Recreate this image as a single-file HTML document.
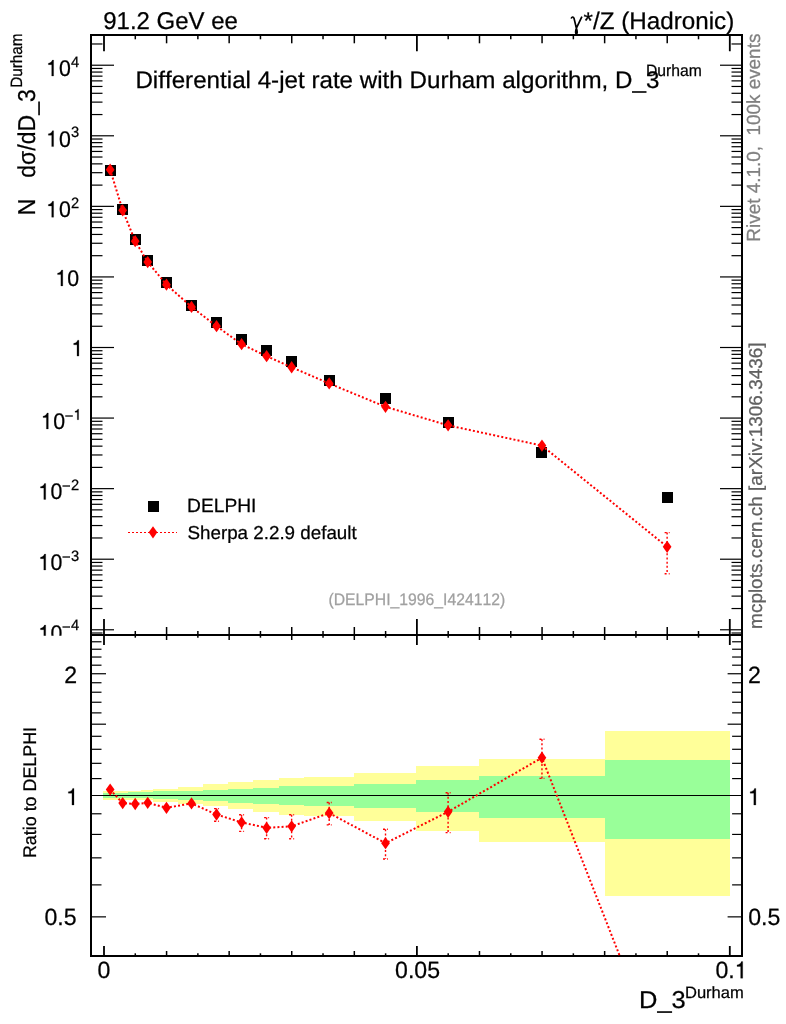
<!DOCTYPE html>
<html><head><meta charset="utf-8"><title>plot</title>
<style>html,body{margin:0;padding:0;background:#fff;width:786px;height:1024px;overflow:hidden}svg{position:absolute;left:0;top:0;will-change:transform}svg text{font-family:"Liberation Sans",sans-serif;stroke-width:0.25px;font-variant-ligatures:none;font-kerning:none;white-space:pre;text-rendering:geometricPrecision}</style></head>
<body>
<svg width="786" height="1024" viewBox="0 0 786 1024">
<rect x="0" y="0" width="786" height="1024" fill="#fff"/>
<g fill="#ffff99" shape-rendering="crispEdges">
<rect x="103" y="791.2" width="13" height="8.3"/>
<rect x="116" y="790.9" width="12" height="8.9"/>
<rect x="128" y="790.5" width="13" height="9.5"/>
<rect x="141" y="790.0" width="12" height="10.3"/>
<rect x="153" y="788.9" width="25" height="12.6"/>
<rect x="178" y="787.1" width="25" height="16.5"/>
<rect x="203" y="784.3" width="25" height="22.0"/>
<rect x="228" y="782.0" width="25" height="27.0"/>
<rect x="253" y="780.1" width="26" height="31.6"/>
<rect x="279" y="777.9" width="25" height="36.8"/>
<rect x="304" y="777.0" width="50" height="38.6"/>
<rect x="354" y="773.1" width="62" height="47.7"/>
<rect x="416" y="766.2" width="63" height="64.7"/>
<rect x="479" y="758.5" width="126" height="83.3"/>
<rect x="605" y="731.2" width="125" height="165.1"/>
</g>
<g fill="#99ff99" shape-rendering="crispEdges">
<rect x="103" y="792.8" width="13" height="5.1"/>
<rect x="116" y="792.6" width="12" height="5.4"/>
<rect x="128" y="792.3" width="13" height="5.9"/>
<rect x="141" y="792.0" width="12" height="6.4"/>
<rect x="153" y="791.4" width="25" height="7.3"/>
<rect x="178" y="790.5" width="25" height="9.3"/>
<rect x="203" y="789.6" width="25" height="11.5"/>
<rect x="228" y="788.7" width="25" height="13.8"/>
<rect x="253" y="787.7" width="26" height="16.3"/>
<rect x="279" y="786.2" width="25" height="18.8"/>
<rect x="304" y="786.0" width="50" height="19.5"/>
<rect x="354" y="783.7" width="62" height="24.1"/>
<rect x="416" y="779.8" width="63" height="31.8"/>
<rect x="479" y="775.7" width="126" height="41.8"/>
<rect x="605" y="760.1" width="125" height="78.5"/>
</g>
<line x1="91.0" y1="795.5" x2="742.0" y2="795.5" stroke="#000" stroke-width="1" shape-rendering="crispEdges"/>
<g stroke="#000" stroke-width="2" fill="none" shape-rendering="crispEdges">
<rect x="91.0" y="35.0" width="651.0" height="600.0"/>
<rect x="91.0" y="635.0" width="651.0" height="321.0"/>
</g>
<g stroke="#000" stroke-width="1.5">
<path d="M104.00,35.0v16.3M104.00,619.0v26M104.00,946.0v10" stroke-width="1.8"/>
<path d="M416.90,35.0v16.3M416.90,619.0v26M416.90,946.0v10" stroke-width="1.8"/>
<path d="M729.80,35.0v16.3M729.80,619.0v26M729.80,946.0v10" stroke-width="1.8"/>
<line x1="135.29" y1="35.0" x2="135.29" y2="39.3"/>
<line x1="135.29" y1="631.0" x2="135.29" y2="637.7"/>
<line x1="135.29" y1="953.3" x2="135.29" y2="956.0"/>
<line x1="166.58" y1="35.0" x2="166.58" y2="43.3"/>
<line x1="166.58" y1="627.0" x2="166.58" y2="640.0"/>
<line x1="166.58" y1="951.0" x2="166.58" y2="956.0"/>
<line x1="197.87" y1="35.0" x2="197.87" y2="39.3"/>
<line x1="197.87" y1="631.0" x2="197.87" y2="637.7"/>
<line x1="197.87" y1="953.3" x2="197.87" y2="956.0"/>
<line x1="229.16" y1="35.0" x2="229.16" y2="43.3"/>
<line x1="229.16" y1="627.0" x2="229.16" y2="640.0"/>
<line x1="229.16" y1="951.0" x2="229.16" y2="956.0"/>
<line x1="260.45" y1="35.0" x2="260.45" y2="39.3"/>
<line x1="260.45" y1="631.0" x2="260.45" y2="637.7"/>
<line x1="260.45" y1="953.3" x2="260.45" y2="956.0"/>
<line x1="291.74" y1="35.0" x2="291.74" y2="43.3"/>
<line x1="291.74" y1="627.0" x2="291.74" y2="640.0"/>
<line x1="291.74" y1="951.0" x2="291.74" y2="956.0"/>
<line x1="323.03" y1="35.0" x2="323.03" y2="39.3"/>
<line x1="323.03" y1="631.0" x2="323.03" y2="637.7"/>
<line x1="323.03" y1="953.3" x2="323.03" y2="956.0"/>
<line x1="354.32" y1="35.0" x2="354.32" y2="43.3"/>
<line x1="354.32" y1="627.0" x2="354.32" y2="640.0"/>
<line x1="354.32" y1="951.0" x2="354.32" y2="956.0"/>
<line x1="385.61" y1="35.0" x2="385.61" y2="39.3"/>
<line x1="385.61" y1="631.0" x2="385.61" y2="637.7"/>
<line x1="385.61" y1="953.3" x2="385.61" y2="956.0"/>
<line x1="448.19" y1="35.0" x2="448.19" y2="39.3"/>
<line x1="448.19" y1="631.0" x2="448.19" y2="637.7"/>
<line x1="448.19" y1="953.3" x2="448.19" y2="956.0"/>
<line x1="479.48" y1="35.0" x2="479.48" y2="43.3"/>
<line x1="479.48" y1="627.0" x2="479.48" y2="640.0"/>
<line x1="479.48" y1="951.0" x2="479.48" y2="956.0"/>
<line x1="510.77" y1="35.0" x2="510.77" y2="39.3"/>
<line x1="510.77" y1="631.0" x2="510.77" y2="637.7"/>
<line x1="510.77" y1="953.3" x2="510.77" y2="956.0"/>
<line x1="542.06" y1="35.0" x2="542.06" y2="43.3"/>
<line x1="542.06" y1="627.0" x2="542.06" y2="640.0"/>
<line x1="542.06" y1="951.0" x2="542.06" y2="956.0"/>
<line x1="573.35" y1="35.0" x2="573.35" y2="39.3"/>
<line x1="573.35" y1="631.0" x2="573.35" y2="637.7"/>
<line x1="573.35" y1="953.3" x2="573.35" y2="956.0"/>
<line x1="604.64" y1="35.0" x2="604.64" y2="43.3"/>
<line x1="604.64" y1="627.0" x2="604.64" y2="640.0"/>
<line x1="604.64" y1="951.0" x2="604.64" y2="956.0"/>
<line x1="635.93" y1="35.0" x2="635.93" y2="39.3"/>
<line x1="635.93" y1="631.0" x2="635.93" y2="637.7"/>
<line x1="635.93" y1="953.3" x2="635.93" y2="956.0"/>
<line x1="667.22" y1="35.0" x2="667.22" y2="43.3"/>
<line x1="667.22" y1="627.0" x2="667.22" y2="640.0"/>
<line x1="667.22" y1="951.0" x2="667.22" y2="956.0"/>
<line x1="698.51" y1="35.0" x2="698.51" y2="39.3"/>
<line x1="698.51" y1="631.0" x2="698.51" y2="637.7"/>
<line x1="698.51" y1="953.3" x2="698.51" y2="956.0"/>
</g>
<g stroke="#000" stroke-width="1.2">
<line x1="91.0" y1="633.01" x2="102.5" y2="633.01"/>
<line x1="742.0" y1="633.01" x2="731.5" y2="633.01"/>
<line x1="91.0" y1="629.78" x2="114.0" y2="629.78"/>
<line x1="742.0" y1="629.78" x2="720.0" y2="629.78"/>
<line x1="91.0" y1="608.54" x2="102.5" y2="608.54"/>
<line x1="742.0" y1="608.54" x2="731.5" y2="608.54"/>
<line x1="91.0" y1="596.11" x2="102.5" y2="596.11"/>
<line x1="742.0" y1="596.11" x2="731.5" y2="596.11"/>
<line x1="91.0" y1="587.29" x2="102.5" y2="587.29"/>
<line x1="742.0" y1="587.29" x2="731.5" y2="587.29"/>
<line x1="91.0" y1="580.45" x2="102.5" y2="580.45"/>
<line x1="742.0" y1="580.45" x2="731.5" y2="580.45"/>
<line x1="91.0" y1="574.87" x2="102.5" y2="574.87"/>
<line x1="742.0" y1="574.87" x2="731.5" y2="574.87"/>
<line x1="91.0" y1="570.14" x2="102.5" y2="570.14"/>
<line x1="742.0" y1="570.14" x2="731.5" y2="570.14"/>
<line x1="91.0" y1="566.05" x2="102.5" y2="566.05"/>
<line x1="742.0" y1="566.05" x2="731.5" y2="566.05"/>
<line x1="91.0" y1="562.44" x2="102.5" y2="562.44"/>
<line x1="742.0" y1="562.44" x2="731.5" y2="562.44"/>
<line x1="91.0" y1="559.21" x2="114.0" y2="559.21"/>
<line x1="742.0" y1="559.21" x2="720.0" y2="559.21"/>
<line x1="91.0" y1="537.97" x2="102.5" y2="537.97"/>
<line x1="742.0" y1="537.97" x2="731.5" y2="537.97"/>
<line x1="91.0" y1="525.54" x2="102.5" y2="525.54"/>
<line x1="742.0" y1="525.54" x2="731.5" y2="525.54"/>
<line x1="91.0" y1="516.72" x2="102.5" y2="516.72"/>
<line x1="742.0" y1="516.72" x2="731.5" y2="516.72"/>
<line x1="91.0" y1="509.88" x2="102.5" y2="509.88"/>
<line x1="742.0" y1="509.88" x2="731.5" y2="509.88"/>
<line x1="91.0" y1="504.30" x2="102.5" y2="504.30"/>
<line x1="742.0" y1="504.30" x2="731.5" y2="504.30"/>
<line x1="91.0" y1="499.57" x2="102.5" y2="499.57"/>
<line x1="742.0" y1="499.57" x2="731.5" y2="499.57"/>
<line x1="91.0" y1="495.48" x2="102.5" y2="495.48"/>
<line x1="742.0" y1="495.48" x2="731.5" y2="495.48"/>
<line x1="91.0" y1="491.87" x2="102.5" y2="491.87"/>
<line x1="742.0" y1="491.87" x2="731.5" y2="491.87"/>
<line x1="91.0" y1="488.64" x2="114.0" y2="488.64"/>
<line x1="742.0" y1="488.64" x2="720.0" y2="488.64"/>
<line x1="91.0" y1="467.40" x2="102.5" y2="467.40"/>
<line x1="742.0" y1="467.40" x2="731.5" y2="467.40"/>
<line x1="91.0" y1="454.97" x2="102.5" y2="454.97"/>
<line x1="742.0" y1="454.97" x2="731.5" y2="454.97"/>
<line x1="91.0" y1="446.15" x2="102.5" y2="446.15"/>
<line x1="742.0" y1="446.15" x2="731.5" y2="446.15"/>
<line x1="91.0" y1="439.31" x2="102.5" y2="439.31"/>
<line x1="742.0" y1="439.31" x2="731.5" y2="439.31"/>
<line x1="91.0" y1="433.73" x2="102.5" y2="433.73"/>
<line x1="742.0" y1="433.73" x2="731.5" y2="433.73"/>
<line x1="91.0" y1="429.00" x2="102.5" y2="429.00"/>
<line x1="742.0" y1="429.00" x2="731.5" y2="429.00"/>
<line x1="91.0" y1="424.91" x2="102.5" y2="424.91"/>
<line x1="742.0" y1="424.91" x2="731.5" y2="424.91"/>
<line x1="91.0" y1="421.30" x2="102.5" y2="421.30"/>
<line x1="742.0" y1="421.30" x2="731.5" y2="421.30"/>
<line x1="91.0" y1="418.07" x2="114.0" y2="418.07"/>
<line x1="742.0" y1="418.07" x2="720.0" y2="418.07"/>
<line x1="91.0" y1="396.83" x2="102.5" y2="396.83"/>
<line x1="742.0" y1="396.83" x2="731.5" y2="396.83"/>
<line x1="91.0" y1="384.40" x2="102.5" y2="384.40"/>
<line x1="742.0" y1="384.40" x2="731.5" y2="384.40"/>
<line x1="91.0" y1="375.58" x2="102.5" y2="375.58"/>
<line x1="742.0" y1="375.58" x2="731.5" y2="375.58"/>
<line x1="91.0" y1="368.74" x2="102.5" y2="368.74"/>
<line x1="742.0" y1="368.74" x2="731.5" y2="368.74"/>
<line x1="91.0" y1="363.16" x2="102.5" y2="363.16"/>
<line x1="742.0" y1="363.16" x2="731.5" y2="363.16"/>
<line x1="91.0" y1="358.43" x2="102.5" y2="358.43"/>
<line x1="742.0" y1="358.43" x2="731.5" y2="358.43"/>
<line x1="91.0" y1="354.34" x2="102.5" y2="354.34"/>
<line x1="742.0" y1="354.34" x2="731.5" y2="354.34"/>
<line x1="91.0" y1="350.73" x2="102.5" y2="350.73"/>
<line x1="742.0" y1="350.73" x2="731.5" y2="350.73"/>
<line x1="91.0" y1="347.50" x2="114.0" y2="347.50"/>
<line x1="742.0" y1="347.50" x2="720.0" y2="347.50"/>
<line x1="91.0" y1="326.26" x2="102.5" y2="326.26"/>
<line x1="742.0" y1="326.26" x2="731.5" y2="326.26"/>
<line x1="91.0" y1="313.83" x2="102.5" y2="313.83"/>
<line x1="742.0" y1="313.83" x2="731.5" y2="313.83"/>
<line x1="91.0" y1="305.01" x2="102.5" y2="305.01"/>
<line x1="742.0" y1="305.01" x2="731.5" y2="305.01"/>
<line x1="91.0" y1="298.17" x2="102.5" y2="298.17"/>
<line x1="742.0" y1="298.17" x2="731.5" y2="298.17"/>
<line x1="91.0" y1="292.59" x2="102.5" y2="292.59"/>
<line x1="742.0" y1="292.59" x2="731.5" y2="292.59"/>
<line x1="91.0" y1="287.86" x2="102.5" y2="287.86"/>
<line x1="742.0" y1="287.86" x2="731.5" y2="287.86"/>
<line x1="91.0" y1="283.77" x2="102.5" y2="283.77"/>
<line x1="742.0" y1="283.77" x2="731.5" y2="283.77"/>
<line x1="91.0" y1="280.16" x2="102.5" y2="280.16"/>
<line x1="742.0" y1="280.16" x2="731.5" y2="280.16"/>
<line x1="91.0" y1="276.93" x2="114.0" y2="276.93"/>
<line x1="742.0" y1="276.93" x2="720.0" y2="276.93"/>
<line x1="91.0" y1="255.69" x2="102.5" y2="255.69"/>
<line x1="742.0" y1="255.69" x2="731.5" y2="255.69"/>
<line x1="91.0" y1="243.26" x2="102.5" y2="243.26"/>
<line x1="742.0" y1="243.26" x2="731.5" y2="243.26"/>
<line x1="91.0" y1="234.44" x2="102.5" y2="234.44"/>
<line x1="742.0" y1="234.44" x2="731.5" y2="234.44"/>
<line x1="91.0" y1="227.60" x2="102.5" y2="227.60"/>
<line x1="742.0" y1="227.60" x2="731.5" y2="227.60"/>
<line x1="91.0" y1="222.02" x2="102.5" y2="222.02"/>
<line x1="742.0" y1="222.02" x2="731.5" y2="222.02"/>
<line x1="91.0" y1="217.29" x2="102.5" y2="217.29"/>
<line x1="742.0" y1="217.29" x2="731.5" y2="217.29"/>
<line x1="91.0" y1="213.20" x2="102.5" y2="213.20"/>
<line x1="742.0" y1="213.20" x2="731.5" y2="213.20"/>
<line x1="91.0" y1="209.59" x2="102.5" y2="209.59"/>
<line x1="742.0" y1="209.59" x2="731.5" y2="209.59"/>
<line x1="91.0" y1="206.36" x2="114.0" y2="206.36"/>
<line x1="742.0" y1="206.36" x2="720.0" y2="206.36"/>
<line x1="91.0" y1="185.12" x2="102.5" y2="185.12"/>
<line x1="742.0" y1="185.12" x2="731.5" y2="185.12"/>
<line x1="91.0" y1="172.69" x2="102.5" y2="172.69"/>
<line x1="742.0" y1="172.69" x2="731.5" y2="172.69"/>
<line x1="91.0" y1="163.87" x2="102.5" y2="163.87"/>
<line x1="742.0" y1="163.87" x2="731.5" y2="163.87"/>
<line x1="91.0" y1="157.03" x2="102.5" y2="157.03"/>
<line x1="742.0" y1="157.03" x2="731.5" y2="157.03"/>
<line x1="91.0" y1="151.45" x2="102.5" y2="151.45"/>
<line x1="742.0" y1="151.45" x2="731.5" y2="151.45"/>
<line x1="91.0" y1="146.72" x2="102.5" y2="146.72"/>
<line x1="742.0" y1="146.72" x2="731.5" y2="146.72"/>
<line x1="91.0" y1="142.63" x2="102.5" y2="142.63"/>
<line x1="742.0" y1="142.63" x2="731.5" y2="142.63"/>
<line x1="91.0" y1="139.02" x2="102.5" y2="139.02"/>
<line x1="742.0" y1="139.02" x2="731.5" y2="139.02"/>
<line x1="91.0" y1="135.79" x2="114.0" y2="135.79"/>
<line x1="742.0" y1="135.79" x2="720.0" y2="135.79"/>
<line x1="91.0" y1="114.55" x2="102.5" y2="114.55"/>
<line x1="742.0" y1="114.55" x2="731.5" y2="114.55"/>
<line x1="91.0" y1="102.12" x2="102.5" y2="102.12"/>
<line x1="742.0" y1="102.12" x2="731.5" y2="102.12"/>
<line x1="91.0" y1="93.30" x2="102.5" y2="93.30"/>
<line x1="742.0" y1="93.30" x2="731.5" y2="93.30"/>
<line x1="91.0" y1="86.46" x2="102.5" y2="86.46"/>
<line x1="742.0" y1="86.46" x2="731.5" y2="86.46"/>
<line x1="91.0" y1="80.88" x2="102.5" y2="80.88"/>
<line x1="742.0" y1="80.88" x2="731.5" y2="80.88"/>
<line x1="91.0" y1="76.15" x2="102.5" y2="76.15"/>
<line x1="742.0" y1="76.15" x2="731.5" y2="76.15"/>
<line x1="91.0" y1="72.06" x2="102.5" y2="72.06"/>
<line x1="742.0" y1="72.06" x2="731.5" y2="72.06"/>
<line x1="91.0" y1="68.45" x2="102.5" y2="68.45"/>
<line x1="742.0" y1="68.45" x2="731.5" y2="68.45"/>
<line x1="91.0" y1="65.22" x2="114.0" y2="65.22"/>
<line x1="742.0" y1="65.22" x2="720.0" y2="65.22"/>
<line x1="91.0" y1="43.98" x2="102.5" y2="43.98"/>
<line x1="742.0" y1="43.98" x2="731.5" y2="43.98"/>
<line x1="91.0" y1="916.86" x2="106.0" y2="916.86"/>
<line x1="742.0" y1="916.86" x2="727.6" y2="916.86"/>
<line x1="91.0" y1="884.88" x2="101.5" y2="884.88"/>
<line x1="742.0" y1="884.88" x2="732.1" y2="884.88"/>
<line x1="91.0" y1="857.85" x2="101.5" y2="857.85"/>
<line x1="742.0" y1="857.85" x2="732.1" y2="857.85"/>
<line x1="91.0" y1="834.43" x2="101.5" y2="834.43"/>
<line x1="742.0" y1="834.43" x2="732.1" y2="834.43"/>
<line x1="91.0" y1="813.78" x2="101.5" y2="813.78"/>
<line x1="742.0" y1="813.78" x2="732.1" y2="813.78"/>
<line x1="91.0" y1="778.59" x2="101.5" y2="778.59"/>
<line x1="742.0" y1="778.59" x2="732.1" y2="778.59"/>
<line x1="91.0" y1="763.33" x2="101.5" y2="763.33"/>
<line x1="742.0" y1="763.33" x2="732.1" y2="763.33"/>
<line x1="91.0" y1="749.29" x2="101.5" y2="749.29"/>
<line x1="742.0" y1="749.29" x2="732.1" y2="749.29"/>
<line x1="91.0" y1="736.29" x2="101.5" y2="736.29"/>
<line x1="742.0" y1="736.29" x2="732.1" y2="736.29"/>
<line x1="91.0" y1="724.19" x2="106.0" y2="724.19"/>
<line x1="742.0" y1="724.19" x2="727.6" y2="724.19"/>
<line x1="91.0" y1="712.88" x2="101.5" y2="712.88"/>
<line x1="742.0" y1="712.88" x2="732.1" y2="712.88"/>
<line x1="91.0" y1="702.24" x2="101.5" y2="702.24"/>
<line x1="742.0" y1="702.24" x2="732.1" y2="702.24"/>
<line x1="91.0" y1="692.22" x2="101.5" y2="692.22"/>
<line x1="742.0" y1="692.22" x2="732.1" y2="692.22"/>
<line x1="91.0" y1="682.74" x2="101.5" y2="682.74"/>
<line x1="742.0" y1="682.74" x2="732.1" y2="682.74"/>
<line x1="91.0" y1="673.74" x2="106.0" y2="673.74"/>
<line x1="742.0" y1="673.74" x2="727.6" y2="673.74"/>
<line x1="91.0" y1="665.19" x2="101.5" y2="665.19"/>
<line x1="742.0" y1="665.19" x2="732.1" y2="665.19"/>
<line x1="91.0" y1="657.03" x2="101.5" y2="657.03"/>
<line x1="742.0" y1="657.03" x2="732.1" y2="657.03"/>
<line x1="91.0" y1="649.23" x2="101.5" y2="649.23"/>
<line x1="742.0" y1="649.23" x2="732.1" y2="649.23"/>
<line x1="91.0" y1="641.77" x2="101.5" y2="641.77"/>
<line x1="742.0" y1="641.77" x2="732.1" y2="641.77"/>
</g>
<g fill="#000" shape-rendering="crispEdges">
<rect x="105.0" y="165.0" width="11" height="11"/>
<rect x="117.0" y="204.0" width="11" height="11"/>
<rect x="130.0" y="234.0" width="11" height="11"/>
<rect x="142.0" y="255.0" width="11" height="11"/>
<rect x="161.0" y="277.0" width="11" height="11"/>
<rect x="186.0" y="300.0" width="11" height="11"/>
<rect x="211.0" y="317.0" width="11" height="11"/>
<rect x="236.0" y="334.0" width="11" height="11"/>
<rect x="261.0" y="345.0" width="11" height="11"/>
<rect x="286.0" y="356.0" width="11" height="11"/>
<rect x="324.0" y="375.0" width="11" height="11"/>
<rect x="380.0" y="393.0" width="11" height="11"/>
<rect x="443.0" y="417.0" width="11" height="11"/>
<rect x="536.0" y="447.0" width="11" height="11"/>
<rect x="662.0" y="492.0" width="11" height="11"/>
<rect x="148.0" y="501.0" width="11" height="11"/>
</g>
<g stroke="#ff0000" stroke-width="1.4" fill="none" stroke-dasharray="2 2.15">
<path d="M667.12,532.6V573.8M664.62,532.6h5M664.62,573.8h5"/>
</g>
<polyline points="110.16,169.67 122.67,210.32 135.19,241.18 147.71,262.07 166.48,284.64 191.51,306.88 216.54,326.21 241.58,344.19 266.61,356.13 291.64,367.27 329.19,383.47 385.51,406.81 448.09,425.34 541.96,445.61 667.12,546.80" fill="none" stroke="#ff0000" stroke-width="2" stroke-dasharray="2 2.15"/>
<g fill="#ff0000">
<polygon points="105.81,169.67 110.16,163.52 114.51,169.67 110.16,175.82"/>
<polygon points="118.32,210.32 122.67,204.17 127.02,210.32 122.67,216.47"/>
<polygon points="130.84,241.18 135.19,235.03 139.54,241.18 135.19,247.33"/>
<polygon points="143.36,262.07 147.71,255.92 152.06,262.07 147.71,268.22"/>
<polygon points="162.13,284.64 166.48,278.49 170.83,284.64 166.48,290.79"/>
<polygon points="187.16,306.88 191.51,300.73 195.86,306.88 191.51,313.03"/>
<polygon points="212.19,326.21 216.54,320.06 220.89,326.21 216.54,332.36"/>
<polygon points="237.23,344.19 241.58,338.04 245.93,344.19 241.58,350.34"/>
<polygon points="262.26,356.13 266.61,349.98 270.96,356.13 266.61,362.28"/>
<polygon points="287.29,367.27 291.64,361.12 295.99,367.27 291.64,373.42"/>
<polygon points="324.84,383.47 329.19,377.32 333.54,383.47 329.19,389.62"/>
<polygon points="381.16,406.81 385.51,400.66 389.86,406.81 385.51,412.96"/>
<polygon points="443.74,425.34 448.09,419.19 452.44,425.34 448.09,431.49"/>
<polygon points="537.61,445.61 541.96,439.46 546.31,445.61 541.96,451.76"/>
<polygon points="662.77,546.80 667.12,540.65 671.47,546.80 667.12,552.95"/>
</g>
<clipPath id="c2"><rect x="91.0" y="635.0" width="651.0" height="321.0"/></clipPath>
<g clip-path="url(#c2)">
<g stroke="#ff0000" stroke-width="1.4" fill="none" stroke-dasharray="2 2.15">
<path d="M216.54,808.6V821.3M214.04,808.6h5M214.04,821.3h5"/>
<path d="M241.58,814.7V831.4M239.08,814.7h5M239.08,831.4h5"/>
<path d="M266.61,817.6V838.8M264.11,817.6h5M264.11,838.8h5"/>
<path d="M291.64,814.7V838.8M289.14,814.7h5M289.14,838.8h5"/>
<path d="M329.19,802.5V824.9M326.69,802.5h5M326.69,824.9h5"/>
<path d="M385.51,829.3V859.0M383.01,829.3h5M383.01,859.0h5"/>
<path d="M448.09,792.7V832.6M445.59,792.7h5M445.59,832.6h5"/>
<path d="M541.96,739.2V778.4M539.46,739.2h5M539.46,778.4h5"/>
</g>
<polyline points="110.16,789.60 122.67,803.10 135.19,804.00 147.71,802.80 166.48,807.80 191.51,803.40 216.54,814.50 241.58,822.40 266.61,827.80 291.64,826.30 329.19,813.10 385.51,843.20 448.09,811.80 541.96,757.70 667.12,1076.70" fill="none" stroke="#ff0000" stroke-width="2" stroke-dasharray="2 2.15"/>
<g fill="#ff0000">
<polygon points="105.81,789.60 110.16,783.45 114.51,789.60 110.16,795.75"/>
<polygon points="118.32,803.10 122.67,796.95 127.02,803.10 122.67,809.25"/>
<polygon points="130.84,804.00 135.19,797.85 139.54,804.00 135.19,810.15"/>
<polygon points="143.36,802.80 147.71,796.65 152.06,802.80 147.71,808.95"/>
<polygon points="162.13,807.80 166.48,801.65 170.83,807.80 166.48,813.95"/>
<polygon points="187.16,803.40 191.51,797.25 195.86,803.40 191.51,809.55"/>
<polygon points="212.19,814.50 216.54,808.35 220.89,814.50 216.54,820.65"/>
<polygon points="237.23,822.40 241.58,816.25 245.93,822.40 241.58,828.55"/>
<polygon points="262.26,827.80 266.61,821.65 270.96,827.80 266.61,833.95"/>
<polygon points="287.29,826.30 291.64,820.15 295.99,826.30 291.64,832.45"/>
<polygon points="324.84,813.10 329.19,806.95 333.54,813.10 329.19,819.25"/>
<polygon points="381.16,843.20 385.51,837.05 389.86,843.20 385.51,849.35"/>
<polygon points="443.74,811.80 448.09,805.65 452.44,811.80 448.09,817.95"/>
<polygon points="537.61,757.70 541.96,751.55 546.31,757.70 541.96,763.85"/>
<polygon points="662.77,1076.70 667.12,1070.55 671.47,1076.70 667.12,1082.85"/>
</g>
</g>
<line x1="128" y1="532.5" x2="177" y2="532.5" stroke="#ff0000" stroke-width="1" stroke-dasharray="2 2"/>
<g fill="#ff0000"><polygon points="148.65,532.30 153.00,526.15 157.35,532.30 153.00,538.45"/></g>
<text transform="translate(103.26,29.1) scale(0.9860,1)" font-size="24.3" stroke="#000">91.2 GeV ee</text>
<path d="M571.3,18.6C571.5,16.7 573.4,16.2 574.1,18.6L576.4,28.2C577.6,31.2 577.3,34.0 576.4,34.0C575.5,34.0 575.2,31.2 576.4,28.2L581.9,16.6" fill="none" stroke="#000" stroke-width="1.7" stroke-linejoin="round" stroke-linecap="butt"/>
<text transform="translate(583.48,29.0) scale(1.0053,1)" font-size="24.1" stroke="#000">*/Z (Hadronic)</text>
<text transform="translate(135.41,87.9) scale(1.0118,1)" font-size="23.9" stroke="#000">Differential 4-jet rate with Durham algorithm, D_3</text>
<text transform="translate(646.00,75.9) scale(0.9581,1)" font-size="16.4" stroke="#000">Durham</text>
<text transform="translate(187.12,511.9) scale(1.0000,1)" font-size="19.2" stroke="#000">DELPHI</text>
<text transform="translate(187.45,538.9) scale(1.0055,1)" font-size="18.7" stroke="#000">Sherpa 2.2.9 default</text>
<text transform="translate(328.42,604.5) scale(0.9484,1)" font-size="16.6" fill="#a0a0a0" stroke="#a0a0a0">(DELPHI_1996_I424112)</text>
<clipPath id="c1"><rect x="0" y="0" width="90" height="635.7"/></clipPath>
<g>
<path transform="translate(46.20,76.0) scale(0.02130,-0.02241)" d="M259 0H347V709H290C268 640 215 580 102 568V505H259Z" stroke="#000" stroke-width="0.25" vector-effect="non-scaling-stroke"/>
<text transform="translate(58.94,76.0) scale(0.9425,1)" font-size="22.6" stroke="#000">0</text>
<text transform="translate(70.90,66.8) scale(0.9800,1)" font-size="15.0" stroke="#000">4</text>
</g>
<g>
<path transform="translate(46.20,146.6) scale(0.02130,-0.02241)" d="M259 0H347V709H290C268 640 215 580 102 568V505H259Z" stroke="#000" stroke-width="0.25" vector-effect="non-scaling-stroke"/>
<text transform="translate(58.94,146.6) scale(0.9425,1)" font-size="22.6" stroke="#000">0</text>
<text transform="translate(70.90,137.4) scale(0.9800,1)" font-size="15.0" stroke="#000">3</text>
</g>
<g>
<path transform="translate(46.20,217.2) scale(0.02130,-0.02241)" d="M259 0H347V709H290C268 640 215 580 102 568V505H259Z" stroke="#000" stroke-width="0.25" vector-effect="non-scaling-stroke"/>
<text transform="translate(58.94,217.2) scale(0.9425,1)" font-size="22.6" stroke="#000">0</text>
<text transform="translate(70.90,208.0) scale(0.9800,1)" font-size="15.0" stroke="#000">2</text>
</g>
<g>
<path transform="translate(40.90,428.9) scale(0.02130,-0.02241)" d="M259 0H347V709H290C268 640 215 580 102 568V505H259Z" stroke="#000" stroke-width="0.25" vector-effect="non-scaling-stroke"/>
<text transform="translate(53.14,428.9) scale(0.9425,1)" font-size="22.6" stroke="#000">0</text>
<text transform="translate(64.80,420.9) scale(0.9800,1)" font-size="15.0" stroke="#000">−</text>
<path transform="translate(73.50,419.7) scale(0.01470,-0.01487)" d="M259 0H347V709H290C268 640 215 580 102 568V505H259Z" stroke="#000" stroke-width="0.25" vector-effect="non-scaling-stroke"/>
</g>
<g>
<path transform="translate(38.30,499.4) scale(0.02130,-0.02241)" d="M259 0H347V709H290C268 640 215 580 102 568V505H259Z" stroke="#000" stroke-width="0.25" vector-effect="non-scaling-stroke"/>
<text transform="translate(50.54,499.4) scale(0.9425,1)" font-size="22.6" stroke="#000">0</text>
<text transform="translate(61.90,491.0) scale(0.9800,1)" font-size="15.0" stroke="#000">−</text>
<text transform="translate(70.90,489.8) scale(0.9800,1)" font-size="15.0" stroke="#000">2</text>
</g>
<g>
<path transform="translate(38.30,570.0) scale(0.02130,-0.02241)" d="M259 0H347V709H290C268 640 215 580 102 568V505H259Z" stroke="#000" stroke-width="0.25" vector-effect="non-scaling-stroke"/>
<text transform="translate(50.54,570.0) scale(0.9425,1)" font-size="22.6" stroke="#000">0</text>
<text transform="translate(61.90,561.8) scale(0.9800,1)" font-size="15.0" stroke="#000">−</text>
<text transform="translate(70.90,560.6) scale(0.9800,1)" font-size="15.0" stroke="#000">3</text>
</g>
<g clip-path="url(#c1)">
<path transform="translate(38.30,641.0) scale(0.02130,-0.02241)" d="M259 0H347V709H290C268 640 215 580 102 568V505H259Z" stroke="#000" stroke-width="0.25" vector-effect="non-scaling-stroke"/>
<text transform="translate(50.54,641.0) scale(0.9425,1)" font-size="22.6" stroke="#000">0</text>
<text transform="translate(61.90,631.6) scale(0.9800,1)" font-size="15.0" stroke="#000">−</text>
<text transform="translate(70.90,630.4) scale(0.9800,1)" font-size="15.0" stroke="#000">4</text>
</g>
<path transform="translate(55.38,285.9) scale(0.02130,-0.02241)" d="M259 0H347V709H290C268 640 215 580 102 568V505H259Z" stroke="#000" stroke-width="0.25" vector-effect="non-scaling-stroke"/>
<text transform="translate(67.23,285.9) scale(0.9425,1)" font-size="22.6" stroke="#000">0</text>
<path transform="translate(71.51,356.1) scale(0.02130,-0.02241)" d="M259 0H347V709H290C268 640 215 580 102 568V505H259Z" stroke="#000" stroke-width="0.25" vector-effect="non-scaling-stroke"/>
<text transform="translate(64.18,682.9) scale(0.9788,1)" font-size="23.6" stroke="#000">2</text>
<text transform="translate(747.95,682.8) scale(0.9788,1)" font-size="23.6" stroke="#000">2</text>
<path transform="translate(65.98,805.0) scale(0.02310,-0.02340)" d="M259 0H347V709H290C268 640 215 580 102 568V505H259Z" stroke="#000" stroke-width="0.25" vector-effect="non-scaling-stroke"/>
<path transform="translate(747.84,805.0) scale(0.02310,-0.02340)" d="M259 0H347V709H290C268 640 215 580 102 568V505H259Z" stroke="#000" stroke-width="0.25" vector-effect="non-scaling-stroke"/>
<text transform="translate(44.44,925.2) scale(0.9788,1)" font-size="23.6" stroke="#000">0</text>
<text transform="translate(57.28,925.2) scale(0.9788,1)" font-size="23.6" stroke="#000">.</text>
<text transform="translate(63.70,925.2) scale(0.9788,1)" font-size="23.6" stroke="#000">5</text>
<text transform="translate(748.18,925.2) scale(0.9788,1)" font-size="23.6" stroke="#000">0</text>
<text transform="translate(761.02,925.2) scale(0.9788,1)" font-size="23.6" stroke="#000">.</text>
<text transform="translate(767.44,925.2) scale(0.9788,1)" font-size="23.6" stroke="#000">5</text>
<text transform="translate(97.58,978.2) scale(0.9788,1)" font-size="23.6" stroke="#000">0</text>
<text transform="translate(395.08,978.2) scale(0.9788,1)" font-size="23.6" stroke="#000">0</text>
<text transform="translate(407.92,978.2) scale(0.9788,1)" font-size="23.6" stroke="#000">.</text>
<text transform="translate(414.34,978.2) scale(0.9788,1)" font-size="23.6" stroke="#000">0</text>
<text transform="translate(427.19,978.2) scale(0.9788,1)" font-size="23.6" stroke="#000">5</text>
<text transform="translate(715.42,978.2) scale(0.9788,1)" font-size="23.6" stroke="#000">0</text>
<text transform="translate(728.26,978.2) scale(0.9788,1)" font-size="23.6" stroke="#000">.</text>
<path transform="translate(734.68,978.2) scale(0.02310,-0.02340)" d="M259 0H347V709H290C268 640 215 580 102 568V505H259Z" stroke="#000" stroke-width="0.25" vector-effect="non-scaling-stroke"/>
<text transform="translate(639.00,1008.3) scale(1.0441,1)" font-size="24.4" stroke="#000">D_3</text>
<text transform="translate(684.93,998.0) scale(1.0100,1)" font-size="16.4" stroke="#000">Durham</text>
<text transform="translate(35.4,215.44) rotate(-90) scale(0.9630,1)" font-size="24.4" stroke="#000">N</text>
<text transform="translate(35.4,177.68) rotate(-90) scale(0.9436,1)" font-size="24.4" stroke="#000">dσ/dD_3</text>
<text transform="translate(21.7,87.86) rotate(-90) scale(0.9348,1)" font-size="16.4" stroke="#000">Durham</text>
<text transform="translate(36.2,858.08) rotate(-90) scale(0.9780,1)" font-size="18.3" stroke="#000">Ratio to DELPHI</text>
<text transform="translate(760.2,241.66) rotate(-90) scale(0.9946,1)" font-size="19.0" fill="#808080" stroke="#808080">Rivet 4.1.0,  100k events</text>
<text transform="translate(762.0,628.88) rotate(-90) scale(1.0190,1)" font-size="18.6" fill="#606060" stroke="#606060">mcplots.cern.ch [arXiv:1306.3436]</text>
</svg>
</body></html>
